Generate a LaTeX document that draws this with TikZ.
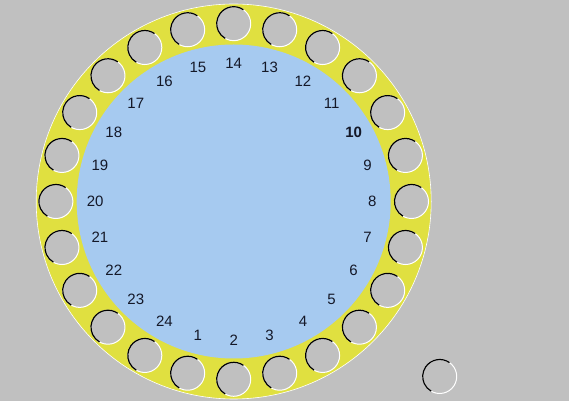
\documentclass[tikz,border=0pt]{standalone}
\usepackage{fontspec}
\setmainfont{Liberation Sans}
\usetikzlibrary{calc}
\definecolor{bg}{RGB}{192,192,192}
\definecolor{ring}{RGB}{224,224,64}
\definecolor{disc}{RGB}{166,202,240}
\definecolor{numc}{RGB}{20,24,40}
\begin{document}
\begin{tikzpicture}[x=1pt,y=1pt,
  hole/.style={circle, fill=bg, draw=white, line width=1pt, minimum size=34pt, inner sep=0pt, outer sep=0pt},
  holerim/.style={draw=black, line width=1.2pt},
  num/.style={font=\fontsize{15}{15}\selectfont, text=numc, inner sep=0pt}]
\fill[bg] (0,0) rectangle (569,401);
\useasboundingbox (0,0) rectangle (569,401);
\coordinate (c) at (233.7,199.5);
\fill[ring] (c) circle[radius=197.5];
\draw[white, line width=0.6pt] (c) circle[radius=197.5];
\fill[disc] (c) circle[radius=157];
\foreach \k in {1,...,24} {
  \node[hole] (h\k) at ($(c)+({75+15*\k}:177.8)$) {};
  \draw[holerim] (h\k.55) arc[start angle=55, end angle=240, radius=17pt];
}
\foreach \k in {1,...,24} {
  \node[num] (n\k) at ($(c)+({-120+15*\k}:138.5)$) {\ifnum\k=10 \bfseries\fi\k};
}
\node[hole] (lone) at (439.7,24.5) {};
\draw[holerim] (lone.55) arc[start angle=55, end angle=240, radius=17pt];
\end{tikzpicture}
\end{document}
